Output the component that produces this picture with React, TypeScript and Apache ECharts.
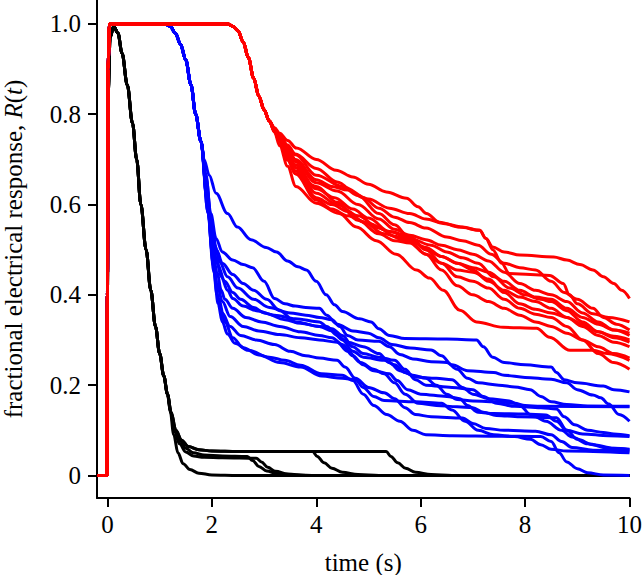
import React, { useEffect, useRef } from "react";
import * as echarts from "echarts";

// ---- axis ticks ----
const xTicks = [0, 2, 4, 6, 8, 10];
const yTicks = [0, 0.2, 0.4, 0.6, 0.8, 1.0];

// ---- black curves ----
const blackHead = [[-0.2, 0], [-0.01, 0], [0.0, 0.4], [0.015, 0.85], [0.05, 0.97], [0.12, 0.995], [0.2, 0.98], [0.28, 0.935], [0.38, 0.865], [0.48, 0.78], [0.56, 0.7], [0.64, 0.6], [0.74, 0.5], [0.83, 0.41], [0.92, 0.33], [1.0, 0.27], [1.08, 0.22], [1.15, 0.18]];
const black1 = [[1.2, 0.145], [1.27, 0.09], [1.35, 0.05], [1.45, 0.026], [1.58, 0.013], [1.75, 0.005], [2.0, 0.001], [2.5, 0], [10, 0]];
const black2 = [[1.22, 0.138], [1.3, 0.1], [1.4, 0.075], [1.5, 0.06], [1.65, 0.05], [1.85, 0.045], [2.2, 0.043], [2.68, 0.042], [2.78, 0.033], [2.9, 0.02], [3.05, 0.01], [3.25, 0.004], [3.6, 0.001], [4, 0], [10, 0]];
const black3 = [[1.21, 0.14], [1.28, 0.1], [1.38, 0.07], [1.5, 0.052], [1.65, 0.043], [1.85, 0.04], [2.2, 0.039], [2.85, 0.038], [2.95, 0.03], [3.07, 0.018], [3.22, 0.009], [3.45, 0.003], [3.8, 0], [10, 0]];
const black4 = [[1.22, 0.14], [1.31, 0.1], [1.42, 0.078], [1.55, 0.064], [1.75, 0.057], [2.0, 0.054], [2.5, 0.053], [3.93, 0.053], [4.02, 0.042], [4.15, 0.028], [4.3, 0.016], [4.5, 0.007], [4.8, 0.002], [5.2, 0], [10, 0]];
const black5 = [[1.22, 0.14], [1.31, 0.1], [1.42, 0.078], [1.55, 0.064], [1.75, 0.057], [2.0, 0.054], [2.5, 0.053], [5.34, 0.053], [5.43, 0.042], [5.56, 0.028], [5.71, 0.016], [5.9, 0.007], [6.2, 0.002], [6.6, 0], [10, 0]];

// ---- blue curves ----
const blueHead = [[-0.2, 0], [-0.01, 0], [0.0, 0.4], [0.01, 0.9], [0.04, 1.0], [1.1, 1.0], [1.2, 0.995], [1.3, 0.98], [1.4, 0.955], [1.5, 0.92], [1.6, 0.865], [1.69, 0.8], [1.79, 0.74]];
const blue1 = [[1.85, 0.7], [1.95, 0.665], [2.08, 0.625], [2.3, 0.58], [2.49, 0.55], [2.75, 0.522], [3.04, 0.505], [3.24, 0.495], [3.45, 0.475], [3.65, 0.462], [3.81, 0.455], [4.0, 0.43], [4.19, 0.4], [4.35, 0.378], [4.5, 0.363], [4.83, 0.347], [5.05, 0.34], [5.2, 0.325], [5.4, 0.31], [5.7, 0.303], [6.5, 0.302], [7.07, 0.3], [7.2, 0.285], [7.38, 0.262], [7.6, 0.25], [8.0, 0.245], [8.5, 0.24], [8.6, 0.228], [8.75, 0.212], [9.0, 0.205], [9.5, 0.198], [9.7, 0.19], [10, 0.185]];
const blue2 = [[1.88, 0.67], [1.98, 0.58], [2.08, 0.525], [2.2, 0.495], [2.4, 0.477], [2.6, 0.467], [2.78, 0.46], [3.0, 0.43], [3.2, 0.392], [3.4, 0.38], [3.6, 0.375], [3.8, 0.372], [4.06, 0.37], [4.2, 0.355], [4.4, 0.335], [4.7, 0.32], [5.0, 0.315], [5.2, 0.305], [5.45, 0.29], [5.8, 0.282], [6.2, 0.278], [6.4, 0.265], [6.6, 0.245], [6.9, 0.232], [7.4, 0.228], [7.6, 0.222], [8.0, 0.217], [8.5, 0.213], [8.8, 0.205], [9.0, 0.19], [9.3, 0.178], [9.45, 0.172], [9.6, 0.158], [9.8, 0.135], [10, 0.12]];
const blue3 = [[1.88, 0.66], [1.97, 0.57], [2.06, 0.51], [2.15, 0.472], [2.3, 0.44], [2.5, 0.415], [2.8, 0.39], [3.1, 0.372], [3.5, 0.36], [3.8, 0.355], [4.06, 0.35], [4.3, 0.345], [4.45, 0.33], [4.6, 0.31], [4.8, 0.3], [5.2, 0.297], [5.4, 0.285], [5.6, 0.268], [5.85, 0.258], [6.2, 0.252], [6.5, 0.25], [6.7, 0.235], [6.9, 0.215], [7.1, 0.205], [7.5, 0.2], [7.8, 0.196], [8.1, 0.19], [8.3, 0.175], [8.5, 0.163], [8.8, 0.157], [9.2, 0.154], [10, 0.153]];
const blue4 = [[1.9, 0.64], [1.99, 0.55], [2.08, 0.48], [2.18, 0.44], [2.3, 0.41], [2.4, 0.392], [2.6, 0.375], [2.85, 0.365], [3.2, 0.355], [3.6, 0.347], [4.06, 0.34], [4.2, 0.33], [4.4, 0.31], [4.6, 0.295], [4.9, 0.285], [5.2, 0.27], [5.4, 0.25], [5.6, 0.232], [5.85, 0.222], [6.1, 0.215], [6.3, 0.2], [6.5, 0.18], [6.7, 0.168], [7.0, 0.165], [7.5, 0.163], [7.8, 0.16], [8.0, 0.155], [8.3, 0.153], [10, 0.152]];
const blue5 = [[1.9, 0.63], [2.0, 0.53], [2.1, 0.47], [2.25, 0.43], [2.4, 0.405], [2.55, 0.39], [2.8, 0.372], [3.0, 0.36], [3.4, 0.345], [3.7, 0.337], [4.06, 0.33], [4.3, 0.325], [4.5, 0.31], [4.7, 0.285], [4.9, 0.27], [5.2, 0.262], [5.5, 0.255], [5.7, 0.235], [5.9, 0.212], [6.1, 0.2], [6.6, 0.195], [7.0, 0.19], [7.2, 0.175], [7.45, 0.16], [7.8, 0.153], [8.3, 0.15], [8.6, 0.147], [8.75, 0.13], [8.95, 0.112], [9.2, 0.1], [9.5, 0.095], [9.7, 0.092], [10, 0.088]];
const blue6 = [[1.9, 0.62], [2.0, 0.51], [2.1, 0.45], [2.18, 0.41], [2.25, 0.39], [2.4, 0.37], [2.65, 0.35], [2.95, 0.34], [3.3, 0.33], [3.7, 0.318], [4.06, 0.31], [4.3, 0.305], [4.5, 0.29], [4.7, 0.265], [4.9, 0.245], [5.1, 0.232], [5.4, 0.225], [5.55, 0.21], [5.75, 0.19], [6.0, 0.18], [6.5, 0.175], [6.75, 0.17], [6.9, 0.155], [7.1, 0.14], [7.4, 0.137], [8.0, 0.136], [8.4, 0.134], [8.6, 0.12], [8.8, 0.1], [9.1, 0.092], [9.6, 0.088], [10, 0.086]];
const blue7 = [[1.91, 0.61], [2.01, 0.49], [2.1, 0.425], [2.2, 0.385], [2.35, 0.352], [2.6, 0.33], [2.9, 0.32], [3.3, 0.312], [3.7, 0.305], [4.06, 0.3], [4.4, 0.295], [4.6, 0.275], [4.85, 0.25], [5.1, 0.235], [5.3, 0.225], [5.5, 0.205], [5.7, 0.18], [5.95, 0.16], [6.3, 0.155], [6.7, 0.152], [7.0, 0.15], [7.2, 0.14], [7.45, 0.133], [7.9, 0.13], [8.6, 0.128], [8.8, 0.1], [9.0, 0.08], [9.3, 0.068], [9.7, 0.06], [10, 0.058]];
const blue8 = [[1.92, 0.6], [2.02, 0.47], [2.1, 0.4], [2.2, 0.36], [2.35, 0.33], [2.55, 0.31], [2.85, 0.3], [3.2, 0.29], [3.5, 0.275], [3.8, 0.265], [4.06, 0.26], [4.4, 0.255], [4.55, 0.24], [4.75, 0.215], [5.0, 0.195], [5.3, 0.183], [5.5, 0.17], [5.7, 0.15], [5.9, 0.135], [6.2, 0.13], [6.8, 0.127], [7.0, 0.115], [7.25, 0.104], [7.6, 0.1], [8.2, 0.098], [8.5, 0.09], [8.7, 0.075], [8.9, 0.062], [9.3, 0.056], [10, 0.054]];
const blue9 = [[1.93, 0.58], [2.04, 0.45], [2.12, 0.38], [2.2, 0.34], [2.3, 0.313], [2.44, 0.293], [2.7, 0.277], [3.1, 0.262], [3.4, 0.255], [3.7, 0.244], [4.1, 0.225], [4.5, 0.222], [4.7, 0.21], [4.9, 0.18], [5.1, 0.155], [5.35, 0.135], [5.6, 0.12], [5.85, 0.1], [6.1, 0.09], [6.6, 0.088], [7.5, 0.087], [8.3, 0.086], [8.5, 0.075], [8.65, 0.05], [8.8, 0.03], [9.0, 0.015], [9.2, 0.006], [9.5, 0.001], [10, 0]];
const blue10 = [[1.93, 0.58], [2.04, 0.46], [2.13, 0.39], [2.25, 0.34], [2.4, 0.305], [2.6, 0.283], [2.9, 0.267], [3.3, 0.25], [3.7, 0.24], [4.1, 0.22], [4.5, 0.215], [4.75, 0.212], [4.9, 0.195], [5.1, 0.175], [5.3, 0.166], [5.9, 0.163], [6.4, 0.16], [6.6, 0.145], [6.85, 0.12], [7.1, 0.1], [7.4, 0.09], [7.8, 0.086], [8.1, 0.08], [8.3, 0.068], [8.5, 0.058], [8.8, 0.054], [10, 0.05]];
const blue11 = [[1.89, 0.66], [1.99, 0.56], [2.09, 0.5], [2.2, 0.47], [2.4, 0.445], [2.6, 0.425], [2.8, 0.41], [3.05, 0.39], [3.3, 0.365], [3.6, 0.34], [4.06, 0.33], [4.3, 0.32], [4.5, 0.3], [4.7, 0.275], [4.9, 0.262], [5.3, 0.255], [5.5, 0.245], [5.7, 0.228], [5.9, 0.218], [6.3, 0.215], [6.6, 0.212], [6.8, 0.195], [7.0, 0.18], [7.3, 0.17], [7.7, 0.165], [7.9, 0.155], [8.1, 0.135], [8.4, 0.12], [8.7, 0.1], [8.9, 0.085], [9.2, 0.07], [9.6, 0.06], [10, 0.057]];

// ---- red curves ----
const redHead = [[-0.2, 0], [-0.01, 0], [0.0, 0.4], [0.01, 0.9], [0.04, 1.0], [2.3, 1.0], [2.4, 0.995], [2.5, 0.985], [2.6, 0.96], [2.7, 0.925], [2.8, 0.88], [2.9, 0.84], [3.0, 0.81], [3.1, 0.785]];
const red1 = [[3.2, 0.77], [3.3, 0.758], [3.45, 0.742], [3.62, 0.725], [4.0, 0.7], [4.38, 0.676], [4.7, 0.661], [5.0, 0.645], [5.34, 0.628], [5.73, 0.614], [5.95, 0.595], [6.11, 0.58], [6.36, 0.561], [6.75, 0.55], [7.13, 0.543], [7.25, 0.525], [7.38, 0.506], [7.6, 0.495], [7.9, 0.488], [8.55, 0.484], [8.8, 0.477], [9.05, 0.467], [9.3, 0.455], [9.5, 0.44], [9.7, 0.425], [9.85, 0.41], [10, 0.392]];
const red2 = [[3.2, 0.768], [3.3, 0.752], [3.45, 0.73], [3.6, 0.71], [4.0, 0.665], [4.5, 0.64], [5.0, 0.612], [5.4, 0.592], [5.79, 0.58], [6.1, 0.568], [6.43, 0.558], [6.8, 0.55], [7.13, 0.543], [7.25, 0.525], [7.38, 0.5], [7.55, 0.47], [7.7, 0.447], [8.1, 0.445], [8.47, 0.443], [8.73, 0.425], [8.85, 0.4], [9.0, 0.38], [9.3, 0.358], [9.6, 0.35], [10, 0.34]];
const red3 = [[3.2, 0.767], [3.3, 0.75], [3.45, 0.725], [3.6, 0.7], [4.0, 0.655], [4.3, 0.64], [4.6, 0.632], [4.9, 0.615], [5.2, 0.592], [5.5, 0.572], [5.79, 0.56], [6.1, 0.548], [6.5, 0.528], [6.8, 0.52], [7.1, 0.51], [7.35, 0.49], [7.6, 0.47], [7.9, 0.46], [8.2, 0.455], [8.5, 0.43], [8.75, 0.405], [9.0, 0.39], [9.3, 0.37], [9.5, 0.35], [9.75, 0.335], [10, 0.322]];
const red4 = [[3.2, 0.766], [3.3, 0.748], [3.45, 0.72], [3.6, 0.695], [4.0, 0.648], [4.4, 0.63], [4.8, 0.6], [5.2, 0.568], [5.5, 0.545], [5.79, 0.532], [6.1, 0.522], [6.4, 0.51], [6.7, 0.5], [7.0, 0.49], [7.3, 0.475], [7.6, 0.45], [7.9, 0.425], [8.2, 0.41], [8.5, 0.4], [8.8, 0.385], [9.1, 0.36], [9.4, 0.34], [9.7, 0.322], [10, 0.31]];
const red5 = [[3.2, 0.765], [3.3, 0.746], [3.45, 0.716], [3.6, 0.688], [4.0, 0.635], [4.35, 0.615], [4.7, 0.59], [5.0, 0.57], [5.4, 0.54], [5.79, 0.525], [6.2, 0.51], [6.5, 0.495], [6.8, 0.482], [7.1, 0.47], [7.4, 0.44], [7.7, 0.415], [8.0, 0.4], [8.3, 0.39], [8.5, 0.385], [8.8, 0.365], [9.1, 0.34], [9.4, 0.318], [9.7, 0.305], [10, 0.295]];
const red6 = [[3.2, 0.764], [3.3, 0.744], [3.45, 0.712], [3.6, 0.682], [4.0, 0.625], [4.4, 0.6], [4.8, 0.575], [5.2, 0.548], [5.5, 0.53], [5.79, 0.52], [6.1, 0.505], [6.4, 0.485], [6.7, 0.47], [7.0, 0.455], [7.3, 0.43], [7.6, 0.41], [7.9, 0.395], [8.2, 0.385], [8.5, 0.37], [8.8, 0.35], [9.1, 0.33], [9.4, 0.31], [9.7, 0.295], [10, 0.285]];
const red7 = [[3.2, 0.763], [3.3, 0.742], [3.45, 0.707], [3.6, 0.675], [4.0, 0.615], [4.3, 0.6], [4.6, 0.585], [4.9, 0.562], [5.3, 0.535], [5.79, 0.517], [6.1, 0.49], [6.4, 0.47], [6.7, 0.455], [7.0, 0.45], [7.3, 0.435], [7.6, 0.405], [7.9, 0.38], [8.2, 0.368], [8.5, 0.36], [8.8, 0.35], [9.1, 0.335], [9.4, 0.318], [9.7, 0.308], [10, 0.3]];
const red8 = [[3.2, 0.762], [3.3, 0.74], [3.45, 0.702], [3.6, 0.668], [4.0, 0.61], [4.3, 0.59], [4.6, 0.575], [5.0, 0.558], [5.4, 0.54], [5.79, 0.53], [6.1, 0.5], [6.4, 0.47], [6.7, 0.44], [7.0, 0.43], [7.3, 0.415], [7.6, 0.39], [7.9, 0.37], [8.2, 0.357], [8.5, 0.35], [8.8, 0.33], [9.1, 0.3], [9.4, 0.27], [9.7, 0.25], [10, 0.235]];
const red9 = [[3.2, 0.762], [3.3, 0.738], [3.45, 0.698], [3.6, 0.668], [4.0, 0.64], [4.4, 0.605], [4.8, 0.565], [5.2, 0.535], [5.5, 0.52], [5.79, 0.515], [6.1, 0.49], [6.4, 0.455], [6.7, 0.42], [7.0, 0.4], [7.3, 0.385], [7.6, 0.37], [7.9, 0.355], [8.2, 0.34], [8.5, 0.33], [8.8, 0.315], [9.1, 0.3], [9.4, 0.285], [9.7, 0.27], [10, 0.26]];
const red10 = [[3.2, 0.767], [3.3, 0.752], [3.45, 0.732], [3.6, 0.712], [4.0, 0.68], [4.4, 0.65], [4.8, 0.62], [5.2, 0.58], [5.5, 0.555], [5.79, 0.525], [6.1, 0.5], [6.4, 0.485], [6.7, 0.47], [7.0, 0.46], [7.3, 0.45], [7.6, 0.43], [7.9, 0.41], [8.2, 0.395], [8.5, 0.39], [8.8, 0.37], [9.1, 0.35], [9.4, 0.335], [9.7, 0.322], [10, 0.315]];
const red11 = [[3.2, 0.76], [3.3, 0.73], [3.45, 0.685], [3.61, 0.64], [4.0, 0.603], [4.44, 0.58], [4.77, 0.55], [5.15, 0.52], [5.53, 0.49], [5.92, 0.455], [6.17, 0.437], [6.43, 0.41], [6.75, 0.366], [7.07, 0.34], [7.58, 0.328], [8.22, 0.326], [8.47, 0.306], [8.86, 0.277], [9.3, 0.277], [9.57, 0.27], [10, 0.255]];

const blackTails = [black1, black2, black3, black4, black5];
const blueTails = [blue1, blue2, blue3, blue4, blue5, blue6, blue7, blue8, blue9, blue10, blue11];
const redTails = [red1, red2, red3, red4, red5, red6, red7, red8, red9, red10, red11];

const FONT = "'Liberation Serif', 'Times New Roman', serif";

function makeSeries(head: number[][], tails: number[][][], color: string, prefix: string) {
  return tails.map((tail, i) => ({
    name: prefix + (i + 1),
    type: "line",
    data: head.concat(tail),
    showSymbol: false,
    symbol: "none",
    smooth: 0.35,
    smoothMonotone: "x",
    lineStyle: { color, width: 3 },
    itemStyle: { color },
    z: 2,
  }));
}

export default function App() {
  const ref = useRef<HTMLDivElement>(null);
  useEffect(() => {
    if (!ref.current) return;
    const chart = echarts.init(ref.current, undefined, { renderer: "svg" });
    chart.setOption({
      animation: false,
      backgroundColor: "#ffffff",
      grid: { left: 97, right: 12.5, top: 0, bottom: 77, containLabel: false, outerBoundsMode: "none" },
      xAxis: {
        type: "value",
        min: -0.2,
        max: 10,
        name: "time (s)",
        nameLocation: "middle",
        nameGap: 52,
        nameTextStyle: { fontFamily: FONT, fontSize: 25, color: "#000" },
        axisLine: { show: true, onZero: false, lineStyle: { color: "#000", width: 2 } },
        axisTick: { show: true, length: 9, lineStyle: { color: "#000", width: 2 }, customValues: xTicks },
        axisLabel: { fontFamily: FONT, fontSize: 25, color: "#000", margin: 14, customValues: xTicks, formatter: (v: number) => String(v) },
        splitLine: { show: false },
      },
      yAxis: {
        type: "value",
        min: -0.05,
        max: 1.053,
        name: "fractional electrical response, {i|R}({i|t})",
        nameLocation: "middle",
        nameRotate: 90,
        nameGap: 71,
        nameTextStyle: {
          fontFamily: FONT,
          fontSize: 25,
          color: "#000",
          rich: { i: { fontFamily: FONT, fontSize: 25, fontStyle: "italic", color: "#000" } },
        },
        axisLine: { show: true, onZero: false, lineStyle: { color: "#000", width: 2 } },
        axisTick: { show: true, length: 9, lineStyle: { color: "#000", width: 2 }, customValues: yTicks },
        axisLabel: { fontFamily: FONT, fontSize: 25, color: "#000", margin: 16, customValues: yTicks, formatter: (v: number) => (v === 0 ? "0" : v.toFixed(1)) },
        splitLine: { show: false },
      },
      series: [
        ...makeSeries(blackHead, blackTails, "#000000", "black"),
        ...makeSeries(blueHead, blueTails, "#0000ff", "blue"),
        ...makeSeries(redHead, redTails, "#ff0000", "red"),
      ],
    });
    return () => chart.dispose();
  }, []);
  return <div ref={ref} style={{ position: "absolute", left: 0, top: 0, width: 642, height: 575 }} />;
}
